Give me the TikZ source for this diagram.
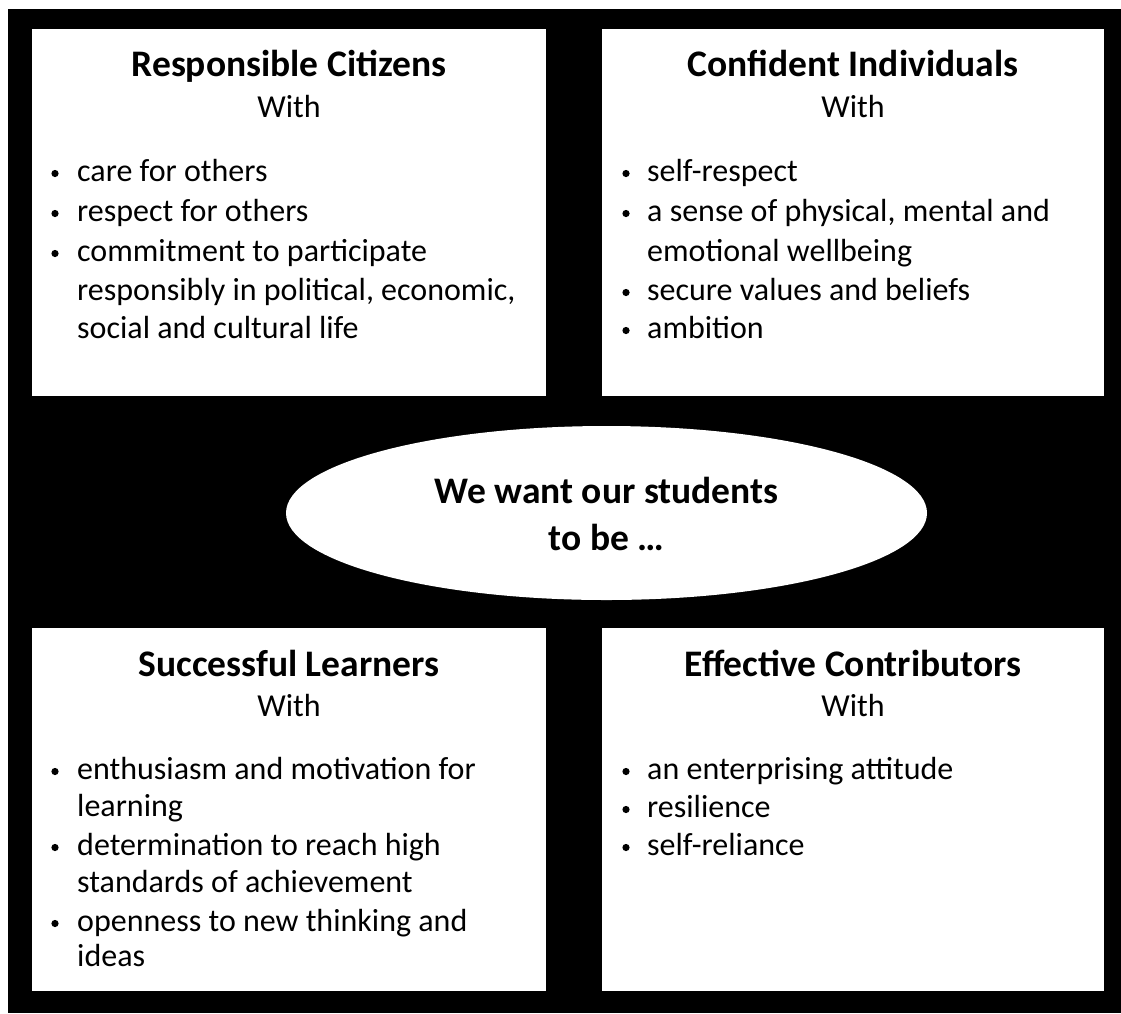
\documentclass[tikz,border=0pt]{standalone}
\usepackage{fontspec}
\setmainfont{Carlito}
\usetikzlibrary{shapes.geometric}

\tikzset{
  panel/.style={fill=white, draw=none},
  headtxt/.style={font=\fontsize{37.5}{46}\selectfont\bfseries, anchor=base, inner sep=0pt},
  withtxt/.style={font=\fontsize{32}{39}\selectfont, anchor=base, inner sep=0pt},
  bodytxt/.style={font=\fontsize{32}{39}\selectfont, anchor=base west, inner sep=0pt},
  centretxt/.style={font=\fontsize{37.5}{46}\selectfont\bfseries, anchor=base, inner sep=0pt},
  dot/.style={fill=black, draw=none},
}

% bullet dot and its line of text: name, dot x, text x, baseline, text
\newcommand\bulletline[5]{%
  \fill[dot] (#2,#4-7.5) circle[radius=3.6pt];
  \node[bodytxt] (#1) at (#3,#4) {#5};}
% continuation line of a wrapped item
\newcommand\wrapline[4]{\node[bodytxt] (#1) at (#2,#3) {#4};}

\begin{document}
\begin{tikzpicture}[x=1pt, y=-1pt]
  \useasboundingbox (0,0) rectangle (1121,1013);
  \fill[black] (8,9) rectangle (1121,1013);

  % four panels
  \fill[panel] (32,29) rectangle (546,396);
  \fill[panel] (602,29) rectangle (1104,396);
  \fill[panel] (32,628) rectangle (546,991);
  \fill[panel] (602,628) rectangle (1104,991);

  % centre ellipse
  \node[ellipse, fill=white, minimum width=641pt, minimum height=174pt, inner sep=0pt] (centre) at (606.5,513) {};
  \node[centretxt] (c1) at (606.5,503) {We want our students};
  \node[centretxt] (c2) at (606.5,550) {to be …};

  % Responsible Citizens
  \node[headtxt] (rcT) at (289,76) {Responsible Citizens};
  \node[withtxt] (rcW) at (289,117) {With};
  \bulletline{rc1}{55}{77}{181}{care for others}
  \bulletline{rc2}{55}{77}{221}{respect for others}
  \bulletline{rc3}{55}{77}{261}{commitment to participate}
  \wrapline{rc4}{77}{300}{responsibly in political, economic,}
  \wrapline{rc5}{77}{338}{social and cultural life}

  % Confident Individuals
  \node[headtxt] (ciT) at (853,76) {Confident Individuals};
  \node[withtxt] (ciW) at (853,117) {With};
  \bulletline{ci1}{626}{647}{181}{self-respect}
  \bulletline{ci2}{626}{647}{221}{a sense of physical, mental and}
  \wrapline{ci3}{647}{261}{emotional wellbeing}
  \bulletline{ci4}{626}{647}{300}{secure values and beliefs}
  \bulletline{ci5}{626}{647}{338}{ambition}

  % Successful Learners
  \node[headtxt] (slT) at (289,676) {Successful Learners};
  \node[withtxt] (slW) at (289,716) {With};
  \bulletline{sl1}{55}{77}{779}{enthusiasm and motivation for}
  \wrapline{sl2}{77}{816}{learning}
  \bulletline{sl3}{55}{77}{855}{determination to reach high}
  \wrapline{sl4}{77}{892}{standards of achievement}
  \bulletline{sl5}{55}{77}{931}{openness to new thinking and}
  \wrapline{sl6}{77}{966}{ideas}

  % Effective Contributors
  \node[headtxt] (ecT) at (853,676) {Effective Contributors};
  \node[withtxt] (ecW) at (853,716) {With};
  \bulletline{ec1}{626}{647}{779}{an enterprising attitude}
  \bulletline{ec2}{626}{647}{817}{resilience}
  \bulletline{ec3}{626}{647}{855}{self-reliance}
\end{tikzpicture}
\end{document}
